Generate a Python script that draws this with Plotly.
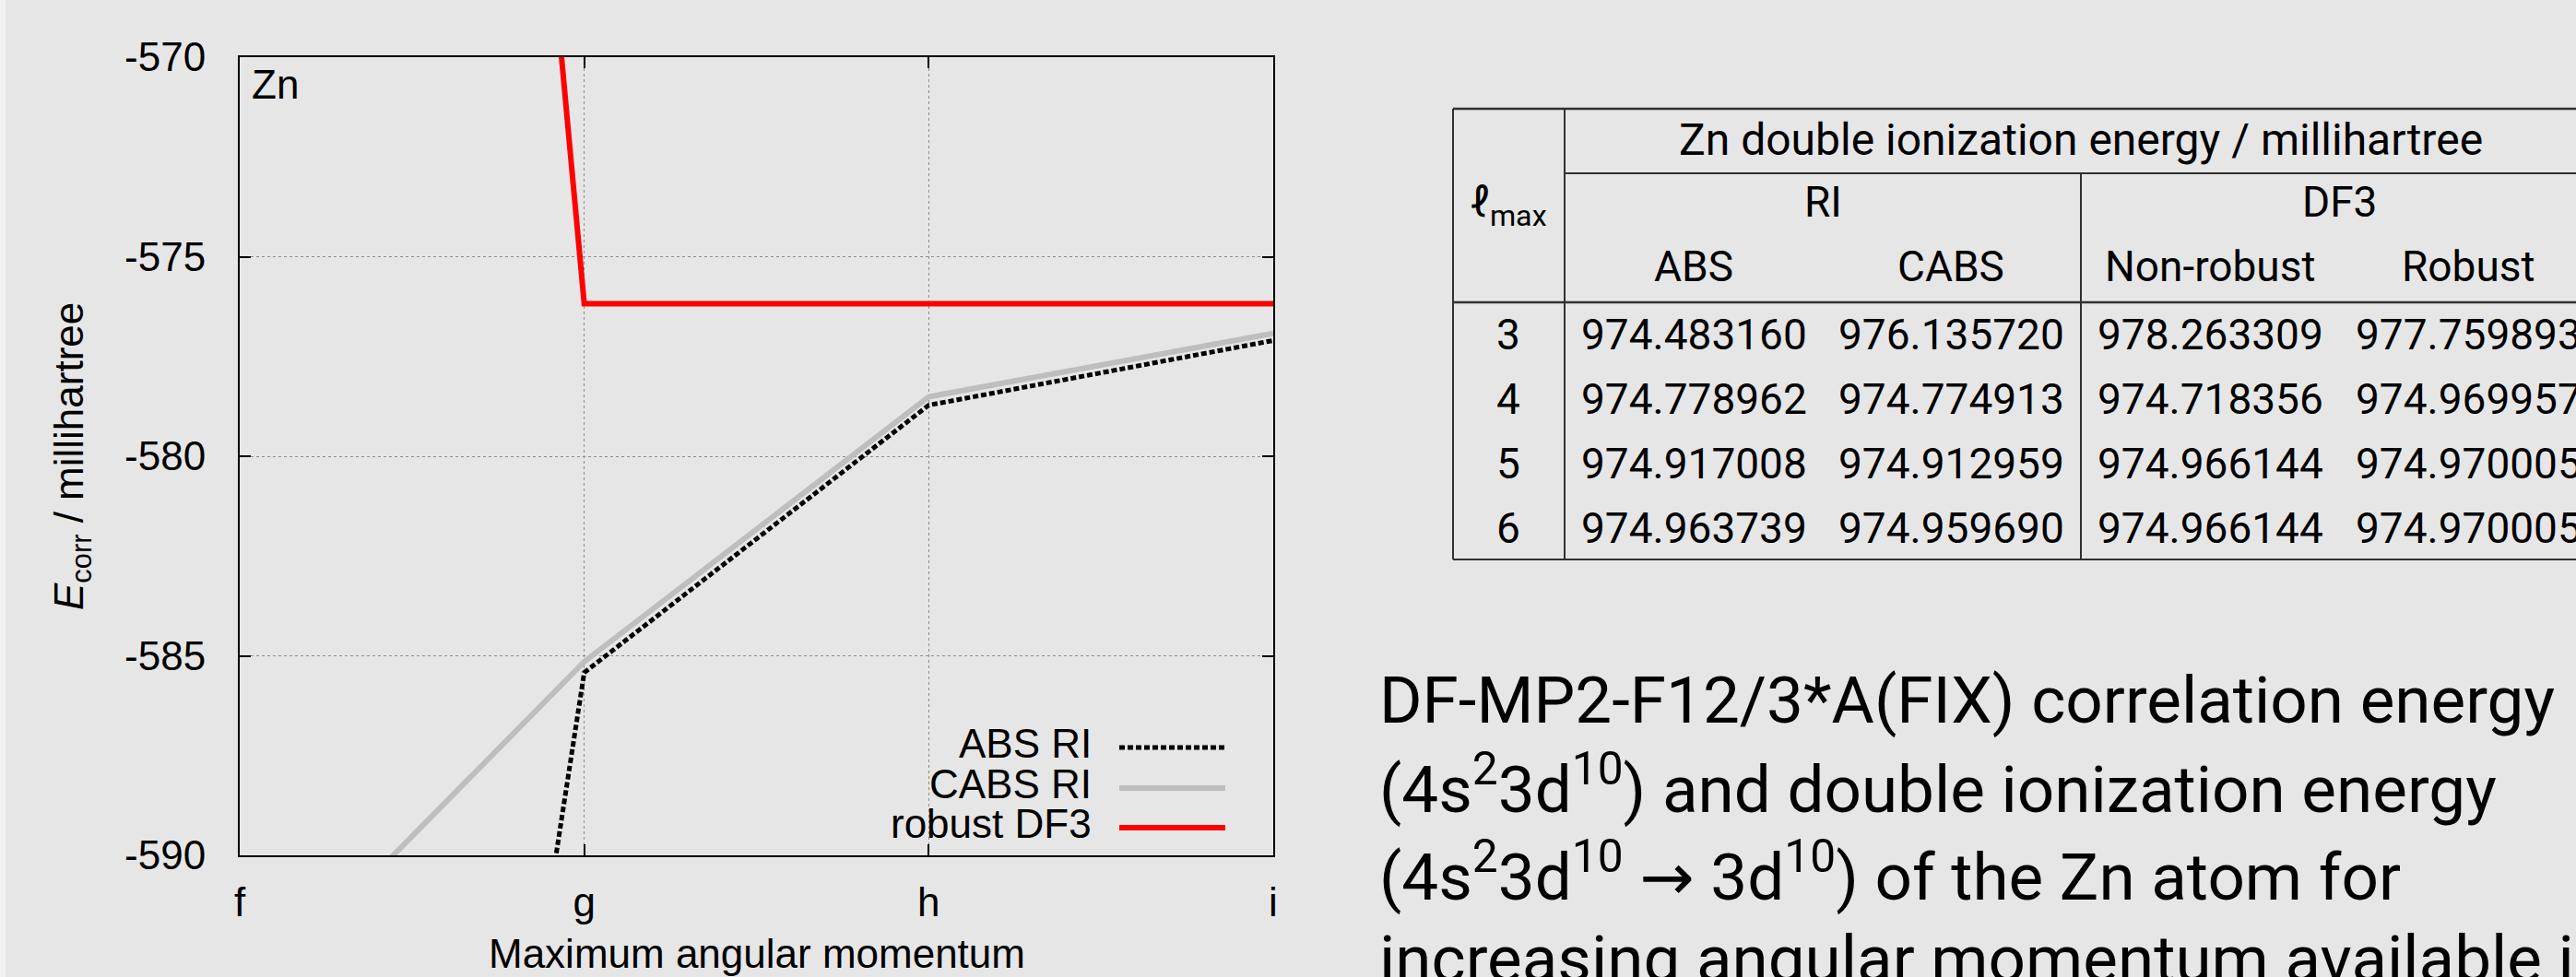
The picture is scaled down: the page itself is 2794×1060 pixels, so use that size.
import plotly.graph_objects as go

W, H = 2794, 1060
BG = "#e6e6e6"

# ---------------- chart data ----------------
levels = ["f", "g", "h", "i"]
abs_ri = [-641.3, -585.42, -578.72, -577.10]
cabs_ri = [-593.9, -585.15, -578.51, -576.92]
robust_df3 = [-482.4, -576.18, -576.18, -576.18]
y_ticks = [-590, -585, -580, -575, -570]
y_tick_labels = ["-590", "-585", "-580", "-575", "-570"]
series_names = ["ABS RI", "CABS RI", "robust DF3"]

# ---------------- table data ----------------
lmax_rows = ["3", "4", "5", "6"]
ri_abs = ["974.483160", "974.778962", "974.917008", "974.963739"]
ri_cabs = ["976.135720", "974.774913", "974.912959", "974.959690"]
df3_nonrobust = ["978.263309", "974.718356", "974.966144", "974.966144"]
df3_robust = ["977.759893", "974.969957", "974.970005", "974.970005"]
table_title = "Zn double ionization energy / millihartree"
group_labels = ["RI", "DF3"]
column_labels = ["ABS", "CABS", "Non-robust", "Robust"]

ARROW = "<span style='font-family:DejaVu Sans'>\u2192</span>"
caption_lines = [
    "DF-MP2-F12/3*A(FIX) correlation energy",
    "(4s<sup>2</sup>3d<sup>10</sup>) and double ionization energy",
    "(4s<sup>2</sup>3d<sup>10</sup> " + ARROW + " 3d<sup>10</sup>) of the Zn atom for",
    "increasing angular momentum available in",
]


def px(x):
    return x / W


def py(y):
    return 1 - y / H


GP_FONT = "Liberation Sans, Arial, sans-serif"
TX_FONT = "Roboto, sans-serif"

fig = go.Figure()
styles = [
    dict(color="black", width=5, dash="6px,3px"),
    dict(color="#bebebe", width=6),
    dict(color="#ff0000", width=6),
]
for name, vals, st in zip(series_names, [abs_ri, cabs_ri, robust_df3], styles):
    fig.add_trace(go.Scatter(x=levels, y=vals, mode="lines", name=name,
                             line=st, showlegend=False, hoverinfo="skip"))

PL, PR, PT, PB = 260, 1381, 62, 928

axis_common = dict(
    showline=True, linecolor="black", linewidth=2, mirror="allticks",
    ticks="inside", ticklen=12, tickwidth=2, tickcolor="black",
    showgrid=True, gridcolor="#8c8c8c", gridwidth=1, griddash="dot",
    zeroline=False, automargin=False,
    tickfont=dict(family=GP_FONT, size=44, color="black"),
)
fig.update_xaxes(domain=[px(PL), px(PR)], type="category", range=[0, 3],
                 categoryorder="array", categoryarray=levels,
                 ticklabelstandoff=11, **axis_common)
fig.update_yaxes(domain=[py(PB), py(PT)], range=[-590, -570],
                 tickvals=y_ticks, ticktext=y_tick_labels,
                 ticklabelstandoff=26, **axis_common)

shapes = []
annotations = []

# light strip at the slide's left edge
shapes.append(dict(type="rect", xref="paper", yref="paper", layer="below",
                   x0=0, x1=px(6), y0=0, y1=1, fillcolor="#f2f2f2", line=dict(width=0)))

# blank key area (hides grid behind key as gnuplot does)
shapes.append(dict(type="rect", xref="paper", yref="paper", layer="between",
                   x0=px(960), x1=px(PR), y0=py(PB), y1=py(788),
                   fillcolor=BG, line=dict(width=0)))

# key
key_y = [811, 855, 898]
for name, st, yk in zip(series_names, styles, key_y):
    shapes.append(dict(type="line", xref="paper", yref="paper",
                       x0=px(1214), x1=px(1329), y0=py(yk), y1=py(yk),
                       line=dict(color=st["color"], width=st["width"],
                                 dash=st.get("dash", "solid"))))
    annotations.append(dict(text=name, xref="paper", yref="paper",
                            x=px(1186), y=py(yk - 5), xanchor="right", yanchor="middle",
                            showarrow=False, font=dict(family=GP_FONT, size=44, color="black")))

# Zn label
annotations.append(dict(text="Zn", xref="paper", yref="paper", x=px(271), y=py(92),
                        xanchor="left", yanchor="middle", showarrow=False,
                        font=dict(family=GP_FONT, size=44, color="black")))
# axis titles
annotations.append(dict(text="Maximum angular momentum", xref="paper", yref="paper",
                        x=px((PL + PR) / 2), y=py(1034), xanchor="center", yanchor="middle",
                        showarrow=False, font=dict(family=GP_FONT, size=44, color="black")))
annotations.append(dict(text="<i>E</i><sub>corr</sub> / millihartree", xref="paper", yref="paper",
                        x=px(78), y=py(495), xanchor="center", yanchor="middle", textangle=-90,
                        showarrow=False, font=dict(family=GP_FONT, size=44, color="black")))

# ---------------- table ----------------
TL, TS1, TS2 = 1576, 1697, 2257
TT, TTL, THB, TB = 118, 188, 328, 607
LC = "#303030"


def hline(x0, x1, y, w=2):
    shapes.append(dict(type="line", xref="paper", yref="paper", x0=px(x0), x1=px(x1),
                       y0=py(y), y1=py(y), line=dict(color=LC, width=w)))


def vline(x, y0, y1, w=2):
    shapes.append(dict(type="line", xref="paper", yref="paper", x0=px(x), x1=px(x),
                       y0=py(y0), y1=py(y1), line=dict(color=LC, width=w)))


hline(TL, W + 10, TT, 2.5)
hline(TS1, W + 10, TTL)
hline(TL, W + 10, THB, 2.5)
hline(TL, W + 10, TB)
vline(TL, TT, TB)
vline(TS1, TT, TB)
vline(TS2, TTL, TB)

TFS = 46


def cell(text, xc, yc, size=TFS):
    annotations.append(dict(text=text, xref="paper", yref="paper", x=px(xc), y=py(yc),
                            xanchor="center", yanchor="middle", showarrow=False,
                            font=dict(family=TX_FONT, size=size, color="black")))


cell(table_title, 2257, 152, 48)
cell("\u2113<sub>max</sub>", 1636, 222)
cell(group_labels[0], 1977, 219)
cell(group_labels[1], 2537, 219)
col_x = [1837, 2116, 2397, 2677]
for lab, xc in zip(column_labels, col_x):
    cell(lab, xc, 289)
row_y = [363, 433, 503, 573]
for i, yr in enumerate(row_y):
    cell(lmax_rows[i], 1636, yr)
    for col, xc in zip([ri_abs, ri_cabs, df3_nonrobust, df3_robust], col_x):
        cell(col[i], xc, yr)

# ---------------- caption text ----------------
cap_y = [759, 851, 946, 1040]
for line, yc in zip(caption_lines, cap_y):
    annotations.append(dict(text=line, xref="paper", yref="paper", x=px(1494), y=py(yc),
                            xanchor="left", yanchor="middle", showarrow=False,
                            font=dict(family=TX_FONT, size=71, color="black")))

fig.update_layout(
    width=W, height=H, margin=dict(l=0, r=0, t=0, b=0),
    paper_bgcolor=BG, plot_bgcolor=BG, showlegend=False,
    shapes=shapes, annotations=annotations,
)

fig.write_html("out.html", config={"displayModeBar": False},
               post_script="document.body.style.margin='0';document.body.style.overflow='hidden';")
